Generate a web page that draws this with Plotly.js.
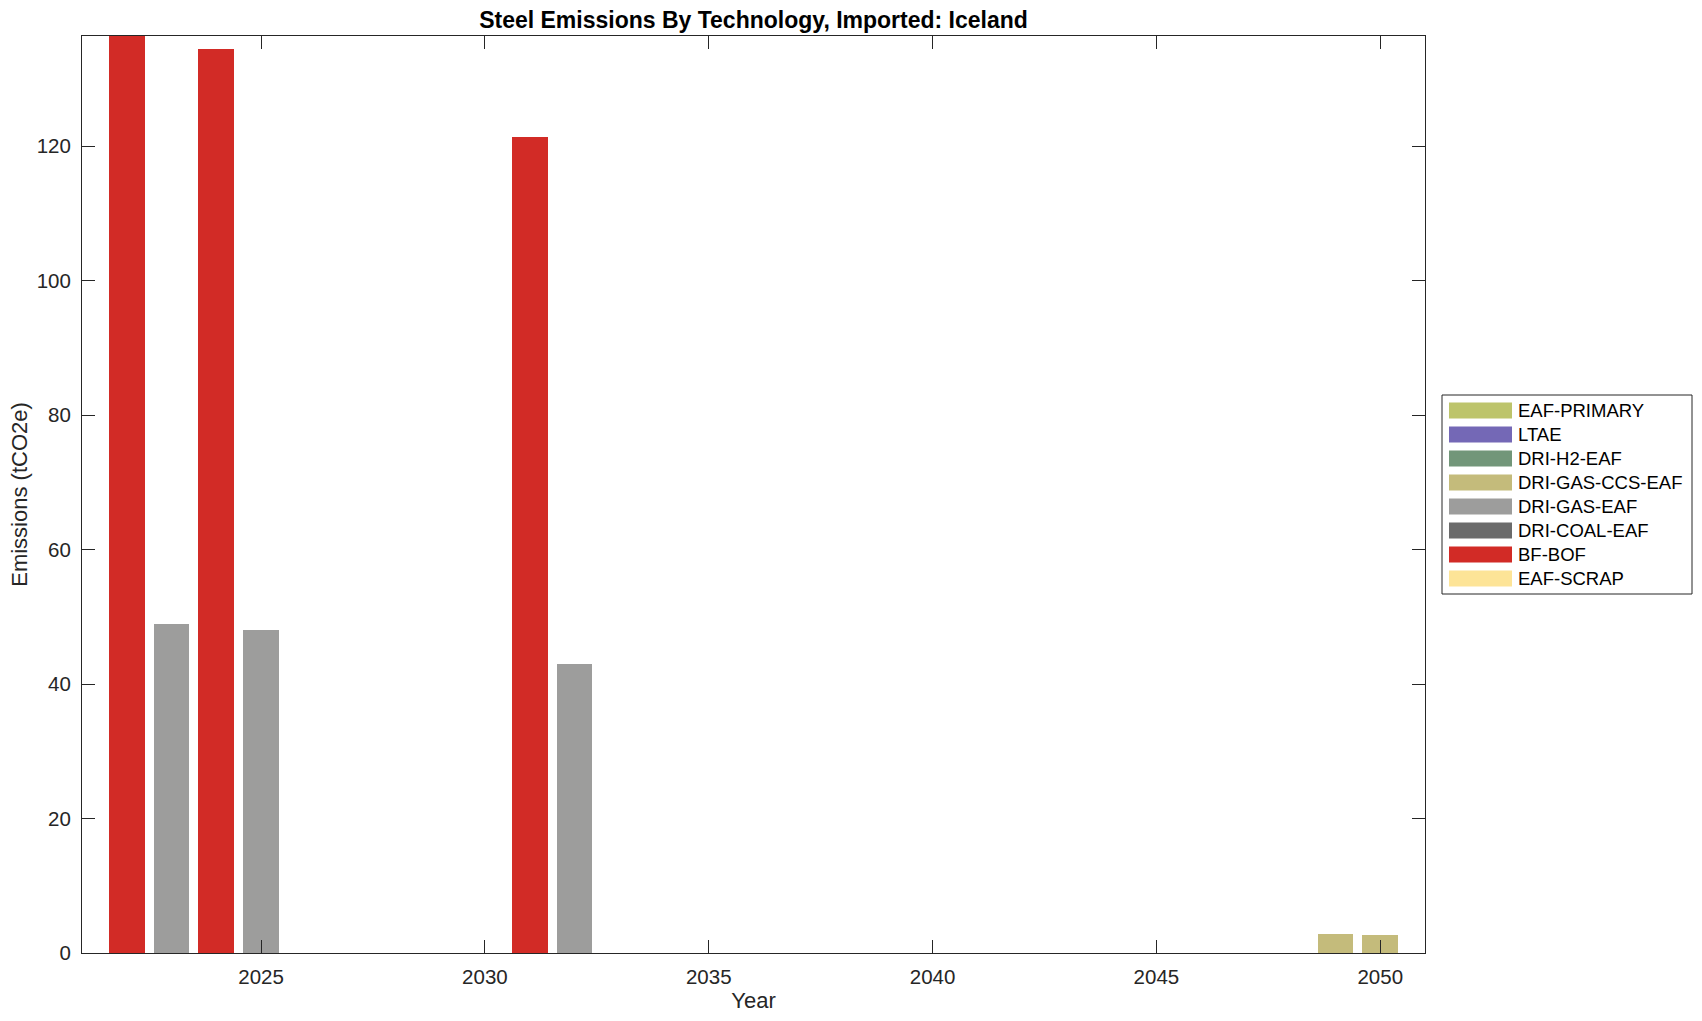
<!DOCTYPE html>
<html>
<head>
<meta charset="utf-8">
<script src="https://cdn.plot.ly/plotly-3.0.1.min.js"></script>
<style>html,body{margin:0;padding:0;background:#fff;}#chart{width:1702px;height:1021px;}</style>
</head>
<body>
<div id="chart"></div>
<script>
// ---- Data ----
const years = [2022, 2023, 2024, 2025, 2031, 2032, 2049, 2050];
const techNames = ["EAF-PRIMARY", "LTAE", "DRI-H2-EAF", "DRI-GAS-CCS-EAF", "DRI-GAS-EAF", "DRI-COAL-EAF", "BF-BOF", "EAF-SCRAP"];
const techColors = ["#bdc46b", "#7468b6", "#729679", "#c4bb7b", "#9d9d9c", "#6b6b6b", "#d22b26", "#fde497"];
const eafPrimary   = [0, 0, 0, 0, 0, 0, 0, 0];
const ltae         = [0, 0, 0, 0, 0, 0, 0, 0];
const driH2Eaf     = [0, 0, 0, 0, 0, 0, 0, 0];
const driGasCcsEaf = [0, 0, 0, 0, 0, 0, 2.78, 2.63];
const driGasEaf    = [0, 49.0, 0, 48.1, 0, 43.0, 0, 0];
const driCoalEaf   = [0, 0, 0, 0, 0, 0, 0, 0];
const bfBof        = [136.4, 0, 134.4, 0, 121.4, 0, 0, 0];
const eafScrap     = [0, 0, 0, 0, 0, 0, 0, 0];
const seriesValues = [eafPrimary, ltae, driH2Eaf, driGasCcsEaf, driGasEaf, driCoalEaf, bfBof, eafScrap];
const xTicks = [2025, 2030, 2035, 2040, 2045, 2050];
const yTicks = [0, 20, 40, 60, 80, 100, 120];

// ---- Layout constants ----
const W = 1702, H = 1021;
const M = {l: 82, r: 277, t: 36, b: 68};
const plotW = W - M.l - M.r, plotH = H - M.t - M.b;
const px2x = p => (p - M.l) / plotW;
const px2y = p => (H - M.b - p) / plotH;
const axisColor = "#262626";
const font = "Liberation Sans, Arial, Helvetica, sans-serif";

// stacking order: bottom EAF-SCRAP ... top EAF-PRIMARY
const traces = [];
for (let i = techNames.length - 1; i >= 0; i--) {
  traces.push({
    type: "bar", x: years, y: seriesValues[i], name: techNames[i],
    width: 0.8, showlegend: false,
    marker: {color: techColors[i], line: {width: 0}}
  });
}

// custom legend (wide swatches)
const shapes = [];
const annotations = [];
const lgLeft = 1442, lgRight = 1692, lgTop = 395, lgBottom = 594;
shapes.push({type: "rect", xref: "paper", yref: "paper",
  x0: px2x(lgLeft), x1: px2x(lgRight), y0: px2y(lgBottom), y1: px2y(lgTop),
  line: {color: axisColor, width: 1}, fillcolor: "#ffffff"});
techNames.forEach((name, i) => {
  const cy = 410.5 + 24 * i;
  shapes.push({type: "rect", xref: "paper", yref: "paper",
    x0: px2x(1449), x1: px2x(1512), y0: px2y(cy + 8), y1: px2y(cy - 8),
    line: {width: 0}, fillcolor: techColors[i]});
  annotations.push({xref: "paper", yref: "paper", x: px2x(1516), y: px2y(cy),
    xanchor: "left", yanchor: "middle", text: name, showarrow: false,
    font: {family: font, size: 18.5, color: "#000"}});
});

const layout = {
  width: W, height: H,
  margin: M,
  paper_bgcolor: "#fff", plot_bgcolor: "#fff",
  barmode: "stack",
  bargap: 0.2,
  font: {family: font, color: axisColor},
  title: {text: "<b>Steel Emissions By Technology, Imported: Iceland</b>",
    font: {family: font, size: 23, color: "#000"},
    x: 0.5 + (M.l - M.r) / 2 / W, xanchor: "center", y: 1 - 19.5 / H, yanchor: "middle"},
  xaxis: {
    range: [2021, 2051], tickvals: xTicks, ticktext: xTicks.map(String),
    ticks: "inside", ticklen: 13, tickcolor: axisColor, tickwidth: 1,
    showline: true, linecolor: axisColor, linewidth: 1, mirror: "ticks",
    showgrid: false, zeroline: false,
    tickfont: {family: font, size: 20.5, color: axisColor},
    ticklabelstandoff: 5,
    title: {text: "Year", font: {family: font, size: 22, color: axisColor}, standoff: 4}
  },
  yaxis: {
    range: [0, 136.4], tickvals: yTicks, ticktext: yTicks.map(String),
    ticks: "inside", ticklen: 13, tickcolor: axisColor, tickwidth: 1,
    showline: true, linecolor: axisColor, linewidth: 1, mirror: "ticks",
    showgrid: false, zeroline: false,
    tickfont: {family: font, size: 20.5, color: axisColor},
    ticklabelstandoff: 6,
    title: {text: "Emissions (tCO2e)", font: {family: font, size: 22, color: axisColor}, standoff: 2}
  },
  shapes: shapes,
  annotations: annotations
};

Plotly.newPlot("chart", traces, layout, {displayModeBar: false, staticPlot: true});
</script>
</body>
</html>
